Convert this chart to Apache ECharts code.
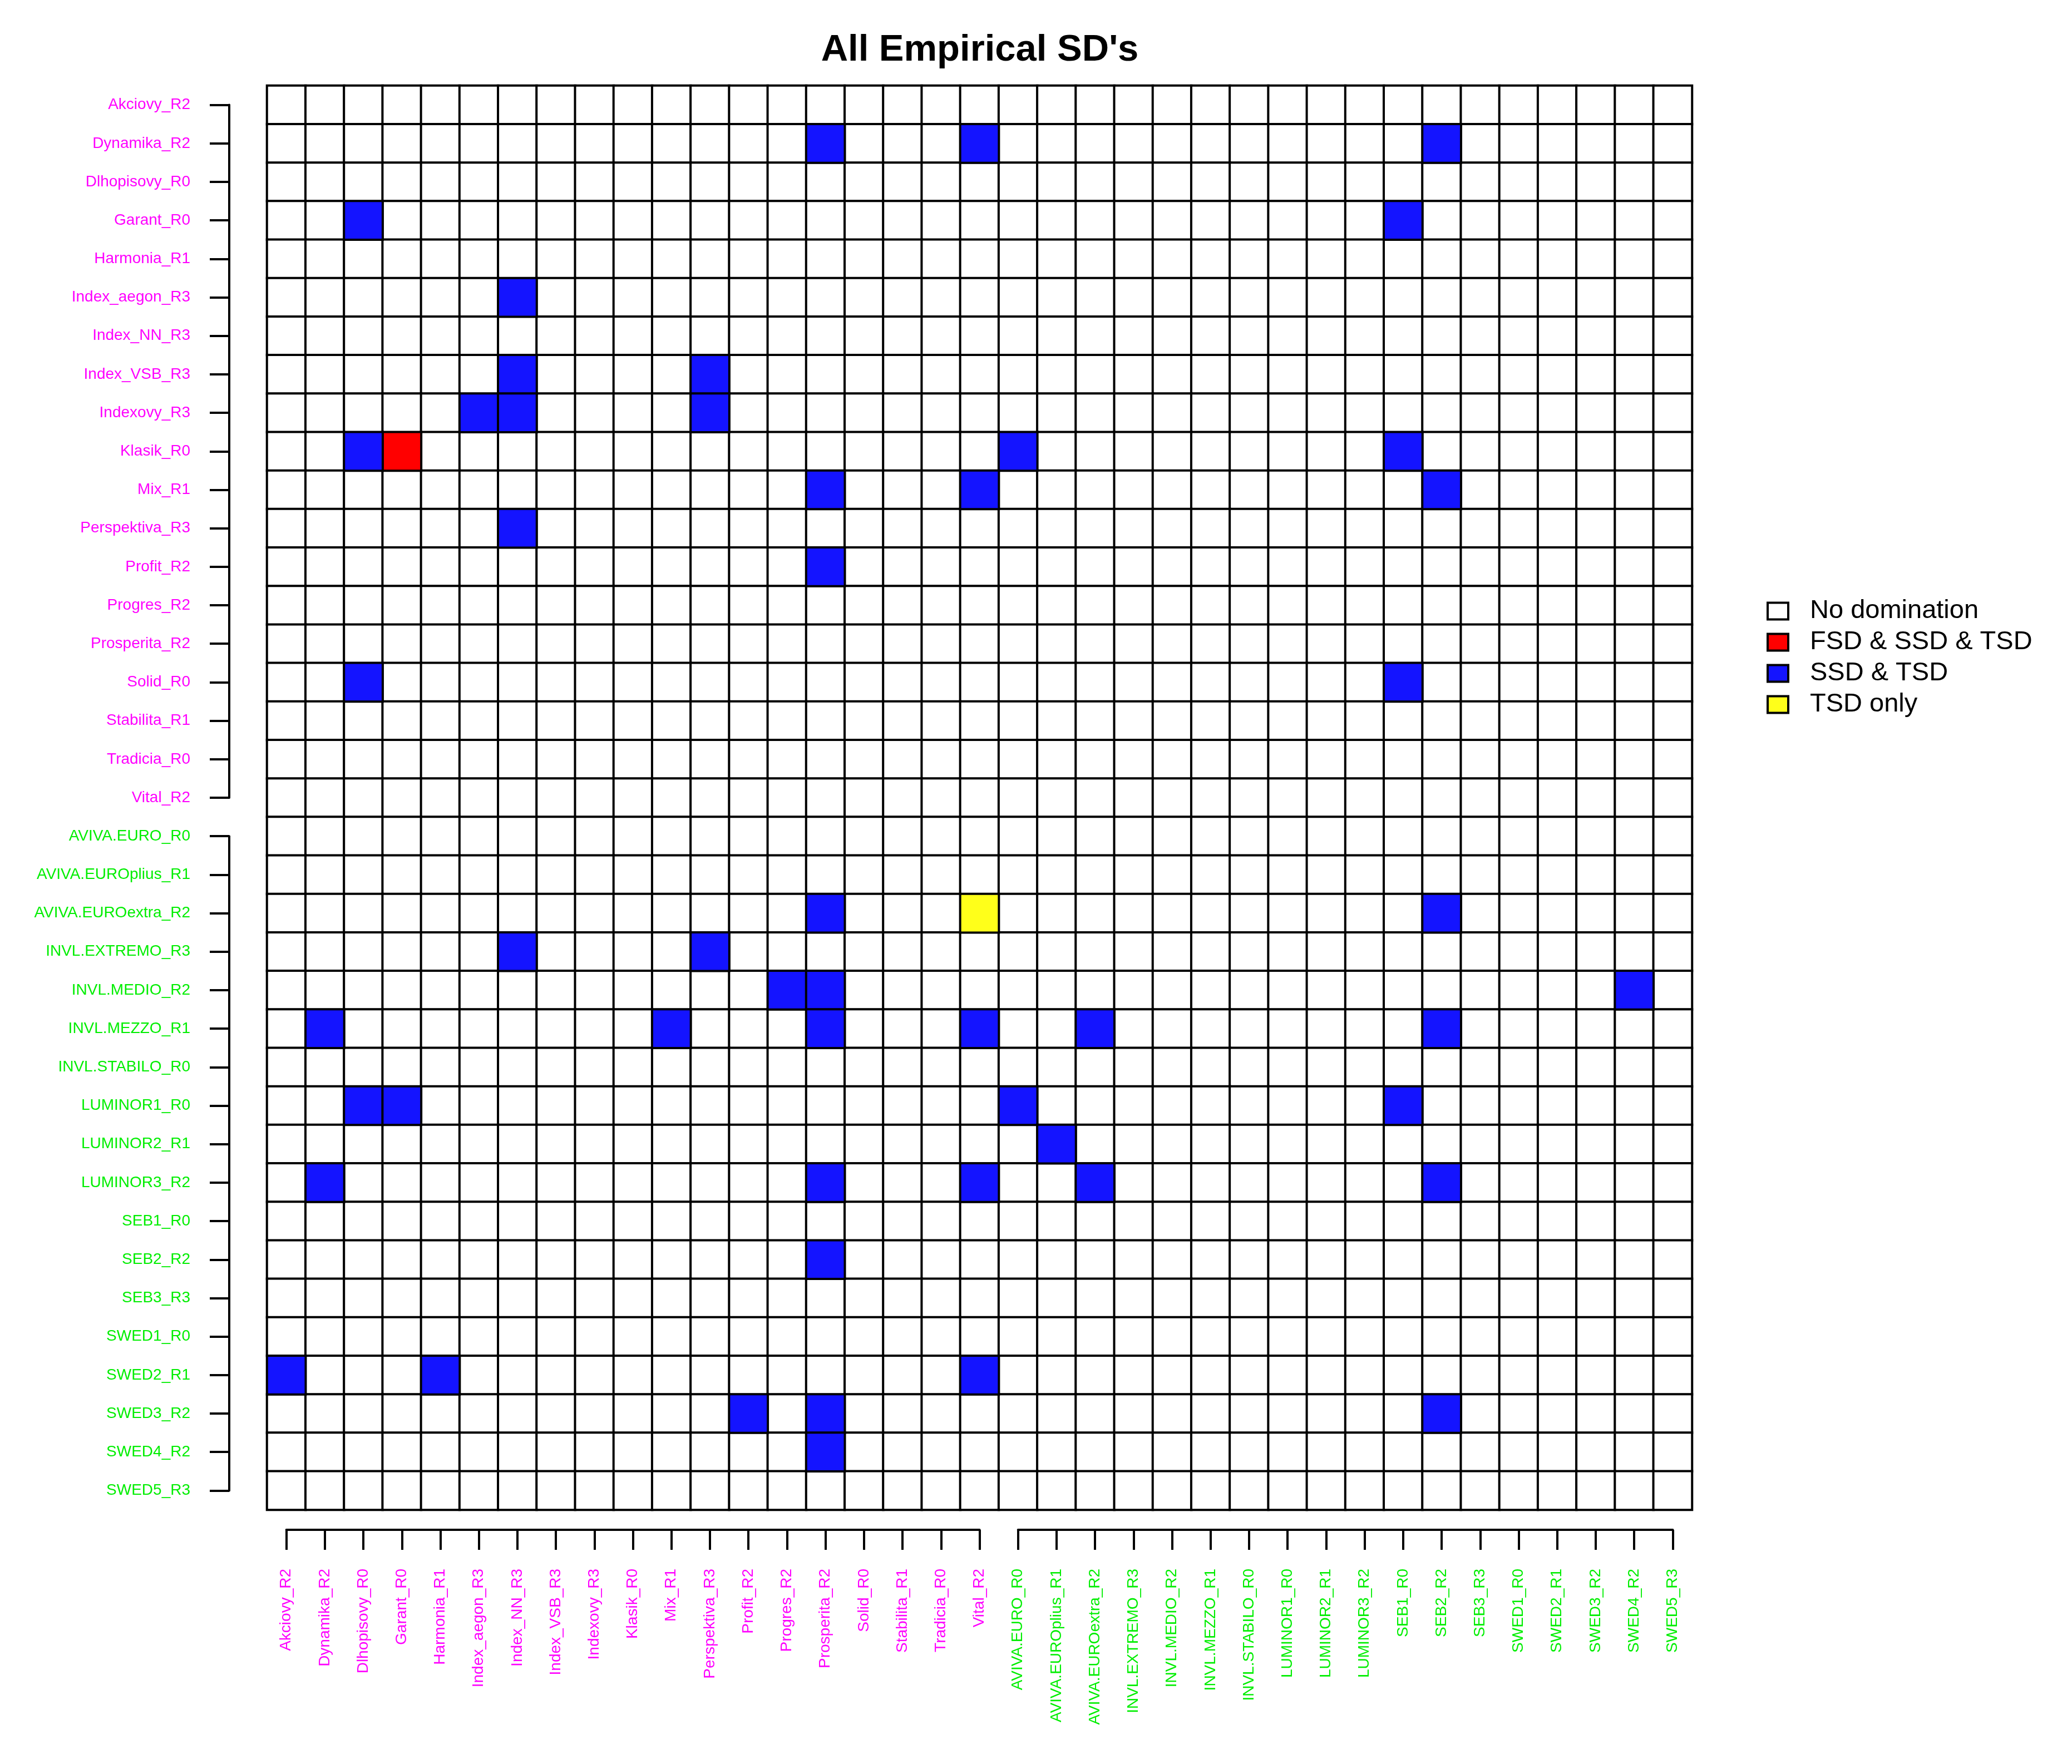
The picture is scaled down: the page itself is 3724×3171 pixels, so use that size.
<!DOCTYPE html>
<html>
<head>
<meta charset="utf-8">
<title>All Empirical SD's</title>
<script src="https://cdn.jsdelivr.net/npm/echarts@6/dist/echarts.min.js"></script>
<style>
  html, body { margin: 0; padding: 0; background: #fff; }
  #chart { width: 3724px; height: 3171px; }
</style>
</head>
<body>
<div id="chart"></div>
<script>
// funds, first group (magenta) and second group (green)
var fundsA = ['Akciovy_R2', 'Dynamika_R2', 'Dlhopisovy_R0', 'Garant_R0', 'Harmonia_R1',
    'Index_aegon_R3', 'Index_NN_R3', 'Index_VSB_R3', 'Indexovy_R3', 'Klasik_R0', 'Mix_R1',
    'Perspektiva_R3', 'Profit_R2', 'Progres_R2', 'Prosperita_R2', 'Solid_R0', 'Stabilita_R1',
    'Tradicia_R0', 'Vital_R2'];
var fundsB = ['AVIVA.EURO_R0', 'AVIVA.EUROplius_R1', 'AVIVA.EUROextra_R2', 'INVL.EXTREMO_R3',
    'INVL.MEDIO_R2', 'INVL.MEZZO_R1', 'INVL.STABILO_R0', 'LUMINOR1_R0', 'LUMINOR2_R1',
    'LUMINOR3_R2', 'SEB1_R0', 'SEB2_R2', 'SEB3_R3', 'SWED1_R0', 'SWED2_R1', 'SWED3_R2',
    'SWED4_R2', 'SWED5_R3'];
var funds = fundsA.concat(fundsB);

var classNames = ['No domination', 'FSD & SSD & TSD', 'SSD & TSD', 'TSD only'];
var classColors = ['#ffffff', '#ff0000', '#1414ff', '#ffff1a'];

// [row fund, column fund]
var fsdCells = [['Klasik_R0', 'Garant_R0']];
var ssdCells = [
    ['Dynamika_R2', 'Prosperita_R2'], ['Dynamika_R2', 'Vital_R2'], ['Dynamika_R2', 'SEB2_R2'],
    ['Garant_R0', 'Dlhopisovy_R0'], ['Garant_R0', 'SEB1_R0'],
    ['Index_aegon_R3', 'Index_NN_R3'],
    ['Index_VSB_R3', 'Index_NN_R3'], ['Index_VSB_R3', 'Perspektiva_R3'],
    ['Indexovy_R3', 'Index_aegon_R3'], ['Indexovy_R3', 'Index_NN_R3'], ['Indexovy_R3', 'Perspektiva_R3'],
    ['Klasik_R0', 'Dlhopisovy_R0'], ['Klasik_R0', 'AVIVA.EURO_R0'], ['Klasik_R0', 'SEB1_R0'],
    ['Mix_R1', 'Prosperita_R2'], ['Mix_R1', 'Vital_R2'], ['Mix_R1', 'SEB2_R2'],
    ['Perspektiva_R3', 'Index_NN_R3'],
    ['Profit_R2', 'Prosperita_R2'],
    ['Solid_R0', 'Dlhopisovy_R0'], ['Solid_R0', 'SEB1_R0'],
    ['AVIVA.EUROextra_R2', 'Prosperita_R2'], ['AVIVA.EUROextra_R2', 'SEB2_R2'],
    ['INVL.EXTREMO_R3', 'Index_NN_R3'], ['INVL.EXTREMO_R3', 'Perspektiva_R3'],
    ['INVL.MEDIO_R2', 'Progres_R2'], ['INVL.MEDIO_R2', 'Prosperita_R2'], ['INVL.MEDIO_R2', 'SWED4_R2'],
    ['INVL.MEZZO_R1', 'Dynamika_R2'], ['INVL.MEZZO_R1', 'Mix_R1'], ['INVL.MEZZO_R1', 'Prosperita_R2'],
    ['INVL.MEZZO_R1', 'Vital_R2'], ['INVL.MEZZO_R1', 'AVIVA.EUROextra_R2'], ['INVL.MEZZO_R1', 'SEB2_R2'],
    ['LUMINOR1_R0', 'Dlhopisovy_R0'], ['LUMINOR1_R0', 'Garant_R0'], ['LUMINOR1_R0', 'AVIVA.EURO_R0'],
    ['LUMINOR1_R0', 'SEB1_R0'],
    ['LUMINOR2_R1', 'AVIVA.EUROplius_R1'],
    ['LUMINOR3_R2', 'Dynamika_R2'], ['LUMINOR3_R2', 'Prosperita_R2'], ['LUMINOR3_R2', 'Vital_R2'],
    ['LUMINOR3_R2', 'AVIVA.EUROextra_R2'], ['LUMINOR3_R2', 'SEB2_R2'],
    ['SEB2_R2', 'Prosperita_R2'],
    ['SWED2_R1', 'Akciovy_R2'], ['SWED2_R1', 'Harmonia_R1'], ['SWED2_R1', 'Vital_R2'],
    ['SWED3_R2', 'Profit_R2'], ['SWED3_R2', 'Prosperita_R2'], ['SWED3_R2', 'SEB2_R2'],
    ['SWED4_R2', 'Prosperita_R2']
];
var tsdCells = [['AVIVA.EUROextra_R2', 'Vital_R2']];

var FONT = 'Liberation Sans';
var yAxisOffset = 68;
var xAxisOffset = 36;

// cell lists -> heatmap data [col, row, class]
var toData = function (cells, cls) {
    return cells.map(function (c) {
        return [funds.indexOf(c[1]), funds.indexOf(c[0]), cls];
    });
};
var coloured = {};
[fsdCells, ssdCells, tsdCells].forEach(function (list) {
    list.forEach(function (c) { coloured[c[0] + '|' + c[1]] = true; });
});
var noneCells = [];
funds.forEach(function (r) {
    funds.forEach(function (c) {
        if (!coloured[r + '|' + c]) noneCells.push([r, c]);
    });
});
var classData = [toData(noneCells, 0), toData(fsdCells, 1), toData(ssdCells, 2), toData(tsdCells, 3)];

var labelColor = function (value) {
    return fundsA.indexOf(value) >= 0 ? '#ff00ff' : '#00ee00';
};

var series = classNames.map(function (name, i) {
    return {
        name: name,
        type: 'heatmap',
        data: classData[i],
        silent: true,
        itemStyle: { color: classColors[i], borderColor: '#000', borderWidth: 4 },
        emphasis: { disabled: true }
    };
});

// group brackets under / beside the axes (R style axis segments)
series.push({
    type: 'custom',
    silent: true,
    clip: false,
    data: [[0, fundsA.length - 1], [fundsA.length, funds.length - 1]],
    renderItem: function (params, api) {
        var first = api.value(0), last = api.value(1);
        var cell = api.size([1, 1]);
        var p0 = api.coord([first, first]);
        var p1 = api.coord([last, last]);
        var gridLeft = api.coord([0, 0])[0] - cell[0] / 2;
        var gridBottom = api.coord([0, funds.length - 1])[1] + cell[1] / 2;
        var ax = gridLeft - yAxisOffset;
        var ay = gridBottom + xAxisOffset;
        var style = { stroke: '#000', lineWidth: 4, lineCap: 'round' };
        return {
            type: 'group',
            children: [
                { type: 'line', shape: { x1: ax, y1: p0[1], x2: ax, y2: p1[1] }, style: style },
                { type: 'line', shape: { x1: p0[0], y1: ay, x2: p1[0], y2: ay }, style: style }
            ]
        };
    }
});

var myChart = echarts.init(document.getElementById('chart'), null, { renderer: 'canvas' });
myChart.setOption({
    animation: false,
    backgroundColor: '#fff',
    title: {
        text: "All Empirical SD's",
        left: 1761,
        top: 57,
        padding: 0,
        textAlign: 'center',
        textStyle: { fontFamily: FONT, fontSize: 67, fontWeight: 'bold', color: '#000' }
    },
    legend: {
        orient: 'vertical',
        left: 3175,
        top: 1075,
        padding: 0,
        icon: 'rect',
        itemWidth: 37,
        itemHeight: 30,
        itemGap: 9,
        data: classNames,
        selectedMode: false,
        itemStyle: { borderColor: '#000', borderWidth: 4 },
        textStyle: { fontFamily: FONT, fontSize: 47, color: '#000', padding: [0, 0, 0, 34] }
    },
    grid: { left: 480, top: 154, width: 2561, height: 2560, containLabel: false },
    xAxis: {
        type: 'category',
        data: funds,
        position: 'bottom',
        offset: xAxisOffset,
        axisLine: { show: false },
        axisTick: { show: true, alignWithLabel: true, interval: 0, length: 36, lineStyle: { color: '#000', width: 4 } },
        axisLabel: { interval: 0, rotate: 90, margin: 70, fontFamily: FONT, fontSize: 28, color: labelColor },
        splitLine: { show: false }
    },
    yAxis: {
        type: 'category',
        data: funds,
        inverse: true,
        offset: yAxisOffset,
        axisLine: { show: false },
        axisTick: { show: true, alignWithLabel: true, interval: 0, length: 35, lineStyle: { color: '#000', width: 4 } },
        axisLabel: { interval: 0, margin: 70, fontFamily: FONT, fontSize: 28, color: labelColor },
        splitLine: { show: false }
    },
    series: series
});
</script>
</body>
</html>
